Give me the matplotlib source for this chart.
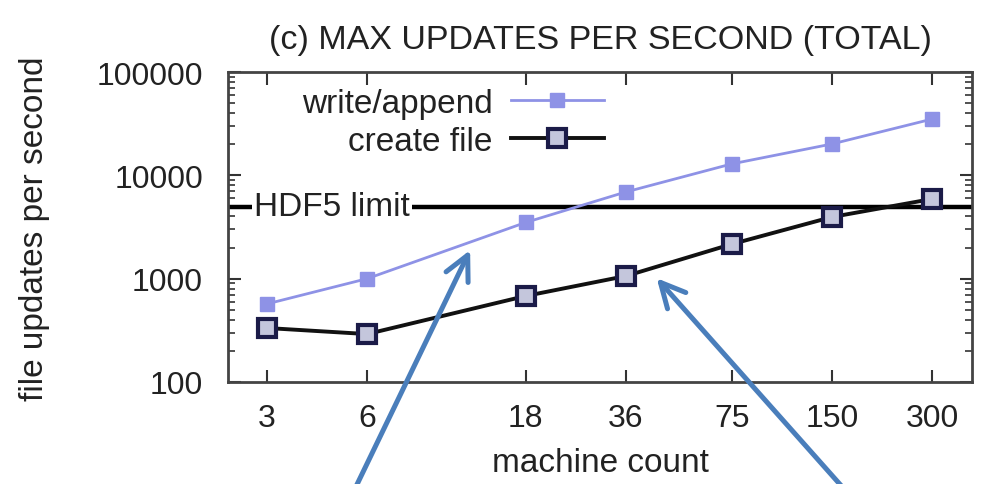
import matplotlib
matplotlib.use("Agg")
import matplotlib.pyplot as plt
from matplotlib.ticker import FixedLocator, FixedFormatter, LogLocator, NullFormatter, NullLocator

plt.rcParams['font.family'] = ['Liberation Sans', 'DejaVu Sans']

# machine counts and measured throughput (file updates per second)
machines = [3, 6, 18, 36, 75, 150, 300]
machine_labels = ['3', '6', '18', '36', '75', '150', '300']
write_append = [570, 1000, 3500, 6900, 12900, 20100, 35000]
create_file = [333, 291, 680, 1060, 2160, 3950, 5900]
hdf5_limit = 4950
y_ticks = [100, 1000, 10000, 100000]
y_tick_labels = ['100', '1000', '10000', '100000']

W, H = 981, 485
fig = plt.figure(figsize=(W / 100, H / 100), dpi=100)
ax = fig.add_axes([228 / W, 1 - 383 / H, (972 - 228) / W, (383 - 73) / H])

ax.set_xscale('log')
ax.set_yscale('log')
ax.set_xlim(2.29, 396)
ax.set_ylim(100, 100000)

ax.plot(machines, write_append, color='#8e92e6', lw=2, marker='s', ms=10,
        mfc='#8e92e6', mec='#8e92e6', label='write/append', zorder=3)
ax.plot(machines, create_file, color='#111111', lw=2.8, marker='s', ms=13,
        mfc='#c4c6dc', mec='#1b1b48', mew=3, label='create file', zorder=4)

# horizontal limit line with its label sitting on it
ax.axhline(hdf5_limit, color='black', lw=3.2, zorder=2)
ax.text(2.29 * 1.2, hdf5_limit, 'HDF5 limit', fontsize=24, va='center', ha='left',
        color='#222222', zorder=5,
        bbox=dict(facecolor='white', edgecolor='none', pad=1.5))

ax.xaxis.set_major_locator(FixedLocator(machines))
ax.xaxis.set_major_formatter(FixedFormatter(machine_labels))
ax.xaxis.set_minor_locator(NullLocator())
ax.yaxis.set_major_locator(FixedLocator(y_ticks))
ax.yaxis.set_major_formatter(FixedFormatter(y_tick_labels))
ax.yaxis.set_minor_locator(LogLocator(base=10, subs=range(2, 10)))
ax.yaxis.set_minor_formatter(NullFormatter())

ax.tick_params(which='both', direction='in', top=True, right=True,
               colors='#333333', labelcolor='#222222')
ax.tick_params(which='major', length=9, width=1.5, labelsize=23)
ax.tick_params(which='minor', length=5, width=1.2)
ax.tick_params(axis='x', pad=15)
ax.tick_params(axis='y', pad=18)
for s in ax.spines.values():
    s.set_linewidth(2)
    s.set_color('#444444')

leg = ax.legend(loc='upper right', bbox_to_anchor=(604 / W, 1 - 89 / H),
                bbox_transform=fig.transFigure, frameon=False, markerfirst=False,
                fontsize=24, handlelength=2.8, handletextpad=0.55,
                labelspacing=0.2, borderpad=0, borderaxespad=0)
for t in leg.get_texts():
    t.set_color('#222222')

fig.text(600 / W, 1 - 40 / H, '(c) MAX UPDATES PER SECOND (TOTAL)',
         fontsize=24.5, ha='center', va='center', color='#222222')
fig.text(600 / W, 1 - 463 / H, 'machine count', fontsize=24,
         ha='center', va='center', color='#222222')
fig.text(35 / W, 1 - 229 / H, 'file updates per second', fontsize=24,
         rotation=90, ha='center', va='center', color='#222222')

# callout arrows pointing at the two curves
arrow_color = '#4a7ebb'
arrow_style = '->,head_length=0.8,head_width=0.4'
ax.annotate('', xy=(12.25, 1890), xycoords='data',
            xytext=(350, -15), textcoords='figure pixels',
            arrowprops=dict(arrowstyle=arrow_style, color=arrow_color, lw=3.6,
                            mutation_scale=22, shrinkA=0, shrinkB=0),
            annotation_clip=False, zorder=10)
ax.annotate('', xy=(44.6, 1010), xycoords='data',
            xytext=(853, -15), textcoords='figure pixels',
            arrowprops=dict(arrowstyle=arrow_style, color=arrow_color, lw=3.6,
                            mutation_scale=22, shrinkA=0, shrinkB=0),
            annotation_clip=False, zorder=10)

fig.savefig('out.png', dpi=100)
